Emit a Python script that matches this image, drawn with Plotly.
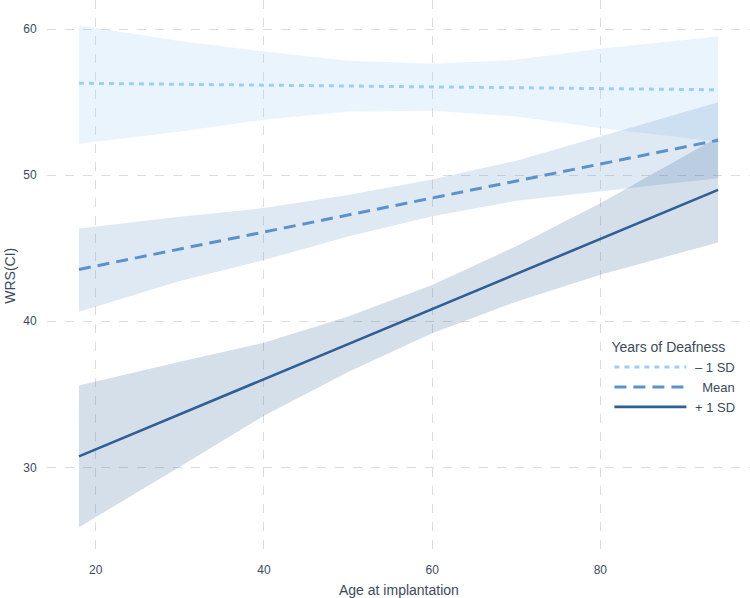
import plotly.graph_objects as go

# age at implantation grid where the CI bands were read
age = [18, 30, 40, 50, 60, 70, 80, 94]
line_age = [18, 94]

# fitted lines (straight), one per level of years of deafness
minus_sd_fit = [56.30, 55.85]
mean_fit = [43.55, 52.40]
plus_sd_fit = [30.75, 49.00]

# confidence bands
minus_sd_hi = [60.26, 59.20, 58.48, 57.84, 57.64, 57.90, 58.66, 59.50]
minus_sd_lo = [52.16, 53.00, 53.80, 54.37, 54.42, 54.03, 53.23, 52.30]
mean_hi = [46.35, 47.15, 47.75, 48.65, 49.70, 51.00, 52.65, 55.00]
mean_lo = [40.65, 42.75, 44.20, 45.80, 47.20, 48.25, 48.90, 49.80]
plus_sd_hi = [35.60, 37.23, 38.53, 40.33, 42.48, 45.14, 48.09, 52.60]
plus_sd_lo = [25.90, 30.03, 33.53, 36.53, 39.18, 41.34, 43.19, 45.40]

labels = ["\u00a0\u2013 1 SD", "\u00a0\u00a0\u00a0Mean", "\u00a0+ 1 SD"]
colors = ["rgb(158,206,247)", "rgb(92,146,201)", "rgb(46,96,150)"]
fills = ["rgba(158,206,247,0.22)", "rgba(92,146,201,0.2)", "rgba(46,96,150,0.2)"]
dashes = ["5px,5px", "12px,7px", "solid"]
widths = [3, 3, 2.6]

fits = [minus_sd_fit, mean_fit, plus_sd_fit]
his = [minus_sd_hi, mean_hi, plus_sd_hi]
los = [minus_sd_lo, mean_lo, plus_sd_lo]

fig = go.Figure()

# bands first so lines sit on top
for hi, lo, fc in zip(his, los, fills):
    fig.add_trace(go.Scatter(
        x=age + age[::-1],
        y=hi + lo[::-1],
        fill="toself",
        fillcolor=fc,
        line=dict(width=0),
        mode="lines",
        hoverinfo="skip",
        showlegend=False,
    ))

for fit, lab, c, d, w in zip(fits, labels, colors, dashes, widths):
    fig.add_trace(go.Scatter(
        x=line_age,
        y=fit,
        mode="lines",
        name=lab,
        line=dict(color=c, dash=d, width=w),
    ))

axis_common = dict(
    showgrid=True, gridcolor="#dcdcdc", griddash="dash", gridwidth=1,
    zeroline=False, showline=False, automargin=False,
    ticks="outside", ticklen=7, tickcolor="rgba(0,0,0,0)",
)

fig.update_layout(
    width=750,
    height=598,
    margin=dict(l=47, r=0, t=0, b=46),
    plot_bgcolor="white",
    paper_bgcolor="white",
    font=dict(family="Liberation Sans, Arial, sans-serif", color="#3d4a5c", size=12),
    legend=dict(
        title=dict(text="Years of Deafness", font=dict(size=14)),
        x=0.8, y=0.395, xanchor="left", yanchor="top",
        bgcolor="rgba(0,0,0,0)",
        font=dict(size=13),
        itemwidth=72,
        tracegroupgap=2,
    ),
    xaxis=dict(range=[14.2, 97.8], tickvals=[20, 40, 60, 80], **axis_common),
    yaxis=dict(range=[24.2, 62.0], tickvals=[30, 40, 50, 60], **axis_common),
    annotations=[
        dict(text="Age at implantation", xref="paper", yref="paper",
             x=0.5, y=-0.069, xanchor="center", yanchor="middle",
             showarrow=False, font=dict(size=14)),
        dict(text="WRS(CI)", xref="paper", yref="paper",
             x=-0.053, y=0.5, xanchor="center", yanchor="middle",
             textangle=-90, showarrow=False, font=dict(size=14)),
    ],
)

# drop the default page margin so the figure sits at the window's corner
fig.write_html("out.html", config={"displayModeBar": False},
               post_script="document.body.style.margin='0';")
